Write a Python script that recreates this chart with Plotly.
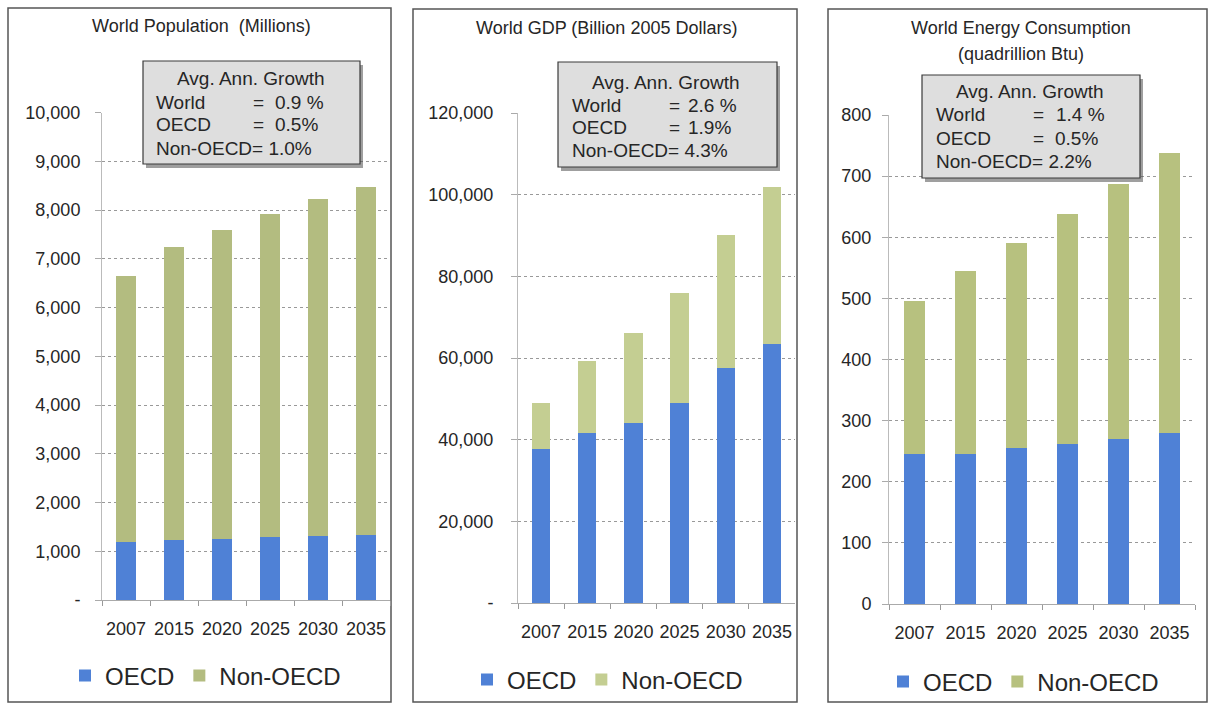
import plotly.graph_objects as go

W, H = 1208, 703

years = ["2007", "2015", "2020", "2025", "2030", "2035"]

pop_oecd = [1185, 1235, 1260, 1290, 1310, 1330]
pop_non_oecd = [5455, 6005, 6330, 6640, 6910, 7140]

gdp_oecd = [37700, 41700, 44160, 48900, 57550, 63360]
gdp_non_oecd = [11360, 17570, 22040, 27020, 32570, 38520]

energy_oecd = [246, 246, 255, 262, 270, 280]
energy_non_oecd = [249, 298, 336, 376, 417, 458]

titles = [["World Population  (Millions)"], ["World GDP (Billion 2005 Dollars)"],
          ["World Energy Consumption", "(quadrillion Btu)"]]
growth_world = ["0.9 %", "2.6 %", "1.4 %"]
growth_oecd = ["0.5%", "1.9%", "0.5%"]
growth_non = ["1.0%", "4.3%", "2.2%"]

pop_ticks = [0, 1000, 2000, 3000, 4000, 5000, 6000, 7000, 8000, 9000, 10000]
pop_ticktext = ["-", "1,000", "2,000", "3,000", "4,000", "5,000", "6,000", "7,000", "8,000", "9,000", "10,000"]
gdp_ticks = [0, 20000, 40000, 60000, 80000, 100000, 120000]
gdp_ticktext = ["-", "20,000", "40,000", "60,000", "80,000", "100,000", "120,000"]
en_ticks = [0, 100, 200, 300, 400, 500, 600, 700, 800]
en_ticktext = ["0", "100", "200", "300", "400", "500", "600", "700", "800"]

BLUE = "#4F81D6"
GREENS = ["#B3BC80", "#C4CE92", "#B7C17F"]
FONT = "Liberation Sans, Arial, sans-serif"
TXT = "#262626"


def px(x):
    return x / W


def py(y):
    return 1 - y / H


panels = [
    dict(data=(pop_oecd, pop_non_oecd), ticks=(pop_ticks, pop_ticktext), rng=[0, 10000],
         xd=(102, 390), yd=(600, 112.7), border=(8, 391, 8, 702),
         title_y=[26], title_x=201,
         box=(143, 360, 61, 164), lines_y=(79, 102, 124, 148), avg_x=251,
         lab_x=155, eq_x=258, val_x=(274, 274),
         leg=(65, 676), standoff=11),
    dict(data=(gdp_oecd, gdp_non_oecd), ticks=(gdp_ticks, gdp_ticktext), rng=[0, 120000],
         xd=(518, 795), yd=(603, 113), border=(413, 797, 9, 702),
         title_y=[28], title_x=606,
         box=(558, 777, 62, 167), lines_y=(82, 105, 128, 150), avg_x=666,
         lab_x=571, eq_x=674, val_x=(687, 687),
         leg=(467, 680), standoff=14),
    dict(data=(energy_oecd, energy_non_oecd), ticks=(en_ticks, en_ticktext), rng=[0, 800],
         xd=(889, 1195), yd=(604, 115), border=(828, 1207, 9, 702),
         title_y=[28, 54], title_x=1021,
         box=(922, 1140, 75, 178), lines_y=(92, 115, 138, 162), avg_x=1030,
         lab_x=935, eq_x=1038, val_x=(1055, 1054),
         leg=(883, 682), standoff=7),
]

fig = go.Figure()
shapes = []
annotations = []
layout = {}

for i, p in enumerate(panels):
    n = "" if i == 0 else str(i + 1)
    lg = "legend" if i == 0 else "legend" + str(i + 1)
    oecd, non = p["data"]
    fig.add_trace(go.Bar(x=years, y=oecd, name="OECD", marker=dict(color=BLUE, line=dict(width=0)),
                         xaxis="x" + n, yaxis="y" + n, legend=lg))
    fig.add_trace(go.Bar(x=years, y=non, name="Non-OECD", marker=dict(color=GREENS[i], line=dict(width=0)),
                         xaxis="x" + n, yaxis="y" + n, legend=lg))

    layout["xaxis" + n] = dict(domain=[px(p["xd"][0]), px(p["xd"][1])], anchor="y" + n,
                               type="category", tickson="boundaries", ticks="outside", ticklen=5,
                               tickcolor="#999", showline=True, linecolor="#aaa", linewidth=1,
                               showgrid=False, tickangle=0, automargin=False,
                               tickfont=dict(size=18, color=TXT, family=FONT),
                               ticklabelstandoff=12, fixedrange=True)
    layout["yaxis" + n] = dict(domain=[py(p["yd"][0]), py(p["yd"][1])], anchor="x" + n,
                               range=p["rng"], tickvals=p["ticks"][0], ticktext=p["ticks"][1],
                               ticks="outside", ticklen=6, tickcolor="#aaa", automargin=False,
                               showline=True, linecolor="#bbb", linewidth=1,
                               showgrid=True, gridcolor="#999", griddash="dot", gridwidth=1,
                               zeroline=False, tickfont=dict(size=18, color=TXT, family=FONT),
                               ticklabelstandoff=p["standoff"], fixedrange=True)
    layout[lg] = dict(x=px(p["leg"][0]), y=py(p["leg"][1]), xanchor="left", yanchor="middle",
                      orientation="h", font=dict(size=24, color=TXT, family=FONT),
                      bgcolor="rgba(0,0,0,0)", traceorder="normal", itemwidth=30)

    # panel border
    bx0, bx1, by0, by1 = p["border"]
    shapes.append(dict(type="rect", xref="paper", yref="paper", x0=px(bx0), x1=px(bx1),
                       y0=py(by1), y1=py(by0), line=dict(color="#555", width=1.5), layer="below"))

    # titles
    for t, ty in zip(titles[i], p["title_y"]):
        annotations.append(dict(text=t, x=px(p["title_x"]), y=py(ty), xref="paper", yref="paper",
                                xanchor="center", yanchor="middle", showarrow=False,
                                font=dict(size=18, color=TXT, family=FONT)))

    # growth box with shadow
    x0, x1, y0, y1 = p["box"]
    shapes.append(dict(type="rect", xref="paper", yref="paper", x0=px(x0 + 3), x1=px(x1 + 3),
                       y0=py(y1 + 4), y1=py(y0 + 4), line=dict(width=0), fillcolor="rgba(80,80,80,0.55)",
                       layer="above"))
    shapes.append(dict(type="rect", xref="paper", yref="paper", x0=px(x0), x1=px(x1),
                       y0=py(y1), y1=py(y0), line=dict(color="#3a3a3a", width=1.2), fillcolor="#DEDEDE",
                       layer="above"))
    ly = p["lines_y"]
    bf = dict(size=19, color=TXT, family=FONT)
    annotations.append(dict(text="Avg. Ann. Growth", x=px(p["avg_x"]), y=py(ly[0]), xref="paper",
                            yref="paper", xanchor="center", yanchor="middle", showarrow=False, font=bf))
    for lab, val, yy, vx in [("World", growth_world[i], ly[1], p["val_x"][0]),
                             ("OECD", growth_oecd[i], ly[2], p["val_x"][1])]:
        annotations.append(dict(text=lab, x=px(p["lab_x"]), y=py(yy), xref="paper", yref="paper",
                                xanchor="left", yanchor="middle", showarrow=False, font=bf, borderpad=0))
        annotations.append(dict(text="=", x=px(p["eq_x"]), y=py(yy), xref="paper", yref="paper",
                                xanchor="center", yanchor="middle", showarrow=False, font=bf))
        annotations.append(dict(text=val, x=px(vx), y=py(yy), xref="paper", yref="paper",
                                xanchor="left", yanchor="middle", showarrow=False, font=bf, borderpad=0))
    annotations.append(dict(text="Non-OECD=\u00a0" + growth_non[i], x=px(p["lab_x"]), y=py(ly[3]),
                            xref="paper", yref="paper", xanchor="left", yanchor="middle",
                            showarrow=False, font=bf, borderpad=0))

fig.update_layout(
    width=W, height=H, margin=dict(l=0, r=0, t=0, b=0, autoexpand=False),
    paper_bgcolor="white", plot_bgcolor="white",
    barmode="stack", bargap=0.6, showlegend=True,
    font=dict(family=FONT, color=TXT),
    shapes=shapes, annotations=annotations,
    **layout,
)

fig.write_html("out.html", config={"displayModeBar": False},
               post_script="document.body.style.margin='0px';document.body.style.overflow='hidden';")
